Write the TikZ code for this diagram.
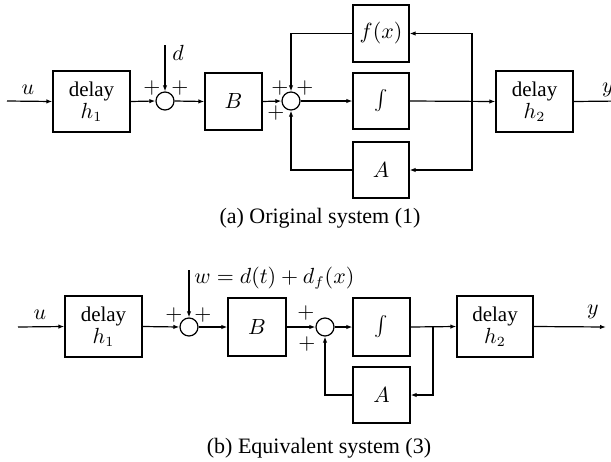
\documentclass[tikz,border=0pt]{standalone}
\usepackage{fontspec}
\setmainfont{Liberation Serif}
\usetikzlibrary{arrows.meta}
\begin{document}
\begin{tikzpicture}[x=0.5pt,y=-0.5pt,
 blk/.style={draw, line width=0.6pt, inner sep=0pt, align=center, font=\fontsize{10.5}{12}\selectfont},
 intg/.style={font=\fontsize{13}{14}\selectfont},
 sumc/.style={draw, circle, line width=0.6pt, minimum size=9pt, inner sep=0pt},
 sig/.style={line width=0.6pt, -{Latex[length=3pt,width=2.2pt]}},
 pl/.style={font=\fontsize{11}{11}\selectfont, inner sep=0pt},
 lbl/.style={font=\fontsize{10.5}{11}\selectfont, inner sep=0pt},
 captxt/.style={font=\fontsize{11}{13}\selectfont, inner sep=0pt}]
\useasboundingbox (0,0) rectangle (611,461);

% ---------------- (a) ----------------
\coordinate (ua) at (7,101);
\node[blk, minimum width=38.5pt, minimum height=30.5pt] (h1a) at (91.5,101.5) {delay\\[-1pt]$h_1$};
\node[sumc] (s1a) at (165,101) {};
\coordinate (da) at (165,45);
\node[blk, minimum width=28.5pt, minimum height=28.5pt] (Ba) at (233.5,101.5) {$B$};
\node[sumc] (s2a) at (291,101) {};
\node[blk, minimum width=28pt, minimum height=28.5pt] (fa) at (381,33.5) {$f(x)$};
\node[blk, intg, minimum width=28pt, minimum height=28pt] (Ia) at (381,101) {$\int$};
\node[blk, minimum width=28pt, minimum height=28pt] (Aa) at (381,170) {$A$};
\node[blk, minimum width=38.5pt, minimum height=30.5pt] (h2a) at (534.5,101.5) {delay\\[-1pt]$h_2$};
\coordinate (ya) at (622,101);
\coordinate (bta) at (472,101);
\coordinate (bua) at (472,33.5);
\coordinate (bda) at (472,170);
\coordinate (fla) at (291,33.5);
\coordinate (ala) at (291,170);

\draw[sig] (ua) -- (h1a.west);
\draw[sig] (h1a.east) -- (s1a.west);
\draw[sig] (da) -- (s1a.north);
\draw[sig] (s1a.east) -- (Ba.west);
\draw[sig] (Ba.east) -- (s2a.west);
\draw[sig] (s2a.east) -- (Ia.west);
\draw[sig] (Ia.east) -- (h2a.west);
\draw[sig] (h2a.east) -- (ya);
\draw[sig] (bta) -- (bua) -- (fa.east);
\draw[sig] (bta) -- (bda) -- (Aa.east);
\draw[sig] (fa.west) -- (fla) -- (s2a.north);
\draw[sig] (Aa.west) -- (ala) -- (s2a.south);

\node[lbl] (lua) at (28,90) {$u$};
\node[lbl] (lda) at (178,53) {$d$};
\node[lbl] (lya) at (608,90) {$y$};
\node[pl] (p1a) at (152,88) {$+$};
\node[pl] (p2a) at (180,88) {$+$};
\node[pl] (p3a) at (280,88) {$+$};
\node[pl] (p4a) at (305,88) {$+$};
\node[pl] (p5a) at (276,113) {$+$};
\node[captxt] (capa) at (320,218) {(a) Original system (1)};

% ---------------- (b) ----------------
\coordinate (ub) at (18,327);
\node[blk, minimum width=38.5pt, minimum height=30.5pt] (h1b) at (103.5,326.5) {delay\\[-1pt]$h_1$};
\node[sumc] (s1b) at (189,327) {};
\coordinate (wb) at (189,270);
\node[blk, minimum width=29pt, minimum height=29pt] (Bb) at (257,327) {$B$};
\node[sumc] (s2b) at (325,327) {};
\node[blk, intg, minimum width=28.5pt, minimum height=29pt] (Ib) at (381.5,327) {$\int$};
\node[blk, minimum width=28.5pt, minimum height=28pt] (Ab) at (381.5,395) {$A$};
\node[blk, minimum width=38pt, minimum height=30.5pt] (h2b) at (495,326.5) {delay\\[-1pt]$h_2$};
\coordinate (yb) at (606,327);
\coordinate (btb) at (433,327);
\coordinate (bdb) at (433,395);
\coordinate (alb) at (325,395);

\draw[sig] (ub) -- (h1b.west);
\draw[sig] (h1b.east) -- (s1b.west);
\draw[sig] (wb) -- (s1b.north);
\draw[sig] (s1b.east) -- (Bb.west);
\draw[sig] (Bb.east) -- (s2b.west);
\draw[sig] (s2b.east) -- (Ib.west);
\draw[sig] (Ib.east) -- (h2b.west);
\draw[sig] (h2b.east) -- (yb);
\draw[sig] (btb) -- (bdb) -- (Ab.east);
\draw[sig] (Ab.west) -- (alb) -- (s2b.south);

\node[lbl] (lub) at (40,315) {$u$};
\node[lbl, anchor=west] (lwb) at (194,278) {$w=d(t)+d_f(x)$};
\node[lbl] (lyb) at (593,312) {$y$};
\node[pl] (p1b) at (174,315) {$+$};
\node[pl] (p2b) at (203,315) {$+$};
\node[pl] (p3b) at (306,313) {$+$};
\node[pl] (p4b) at (307,344) {$+$};
\node[captxt] (capb) at (319,448) {(b) Equivalent system (3)};
\end{tikzpicture}
\end{document}
